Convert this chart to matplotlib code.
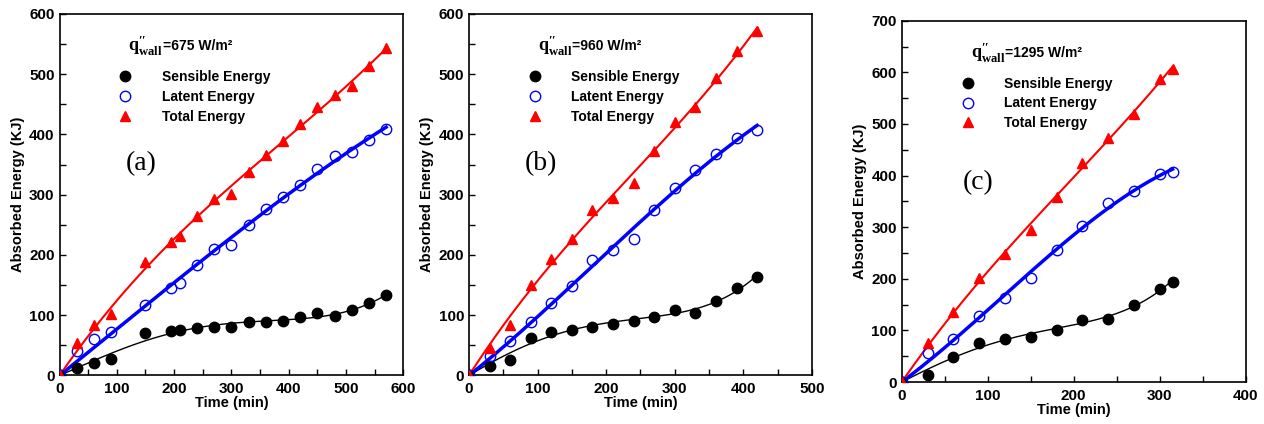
import numpy as np
import matplotlib.pyplot as plt
from matplotlib.lines import Line2D
from matplotlib.ticker import MultipleLocator

plt.rcParams['font.family'] = ['Liberation Sans', 'DejaVu Sans']
plt.rcParams['font.weight'] = 'bold'
plt.rcParams['mathtext.fontset'] = 'custom'
plt.rcParams['mathtext.rm'] = 'Liberation Serif:bold'
plt.rcParams['mathtext.it'] = 'Liberation Serif:bold'
plt.rcParams['mathtext.bf'] = 'Liberation Serif:bold'

# (a) q''wall = 675 W/m2
time_a = [0, 30, 60, 90, 150, 195, 210, 240, 270, 300, 330, 360, 390, 420, 450, 480, 510, 540, 570]
sens_a = [0, 13, 20, 27, 70, 74, 76, 78, 81, 81, 88, 88, 91, 97, 103, 99, 108, 120, 133]
lat_a = [0, 41, 60, 73, 117, 145, 153, 184, 210, 217, 249, 276, 297, 317, 343, 365, 371, 391, 409]
tot_a = [0, 54, 84, 102, 188, 221, 232, 264, 293, 301, 337, 366, 389, 418, 446, 465, 481, 514, 543]

# (b) q''wall = 960 W/m2
time_b = [0, 30, 60, 90, 120, 150, 180, 210, 240, 270, 300, 330, 360, 390, 420]
sens_b = [0, 15, 26, 63, 72, 76, 81, 86, 91, 97, 109, 103, 124, 146, 163]
lat_b = [0, 32, 58, 88, 121, 149, 191, 208, 227, 275, 312, 341, 367, 395, 408]
tot_b = [0, 46, 84, 150, 193, 226, 275, 294, 319, 372, 421, 445, 493, 538, 572]

# (c) q''wall = 1295 W/m2
time_c = [0, 30, 60, 90, 120, 150, 180, 210, 240, 270, 300, 315]
sens_c = [0, 14, 49, 75, 83, 88, 101, 120, 122, 149, 181, 194]
lat_c = [0, 57, 83, 127, 162, 202, 256, 302, 346, 370, 403, 407]
tot_c = [0, 76, 136, 201, 248, 294, 359, 424, 472, 520, 587, 606]

panels = [
    dict(t=time_a, s=sens_a, l=lat_a, T=tot_a, flux='675', tag='(a)', xmax=600, ymax=600,
         rect=[0.0471, 0.1144, 0.2720, 0.8526], tagpos=(0.237, 0.585)),
    dict(t=time_b, s=sens_b, l=lat_b, T=tot_b, flux='960', tag='(b)', xmax=500, ymax=600,
         rect=[0.3710, 0.1144, 0.2714, 0.8526], tagpos=(0.209, 0.585)),
    dict(t=time_c, s=sens_c, l=lat_c, T=tot_c, flux='1295', tag='(c)', xmax=400, ymax=700,
         rect=[0.7134, 0.0990, 0.2721, 0.8522], tagpos=(0.223, 0.551)),
]


def fit_origin(t, y, deg, tt):
    # least squares polynomial forced through (0, 0)
    A = np.vstack([t ** k for k in range(1, deg + 1)]).T
    coef = np.linalg.lstsq(A, np.asarray(y, dtype=float), rcond=None)[0]
    return sum(c * tt ** (k + 1) for k, c in enumerate(coef))


fig = plt.figure(figsize=(12.64, 4.24), dpi=100)

handles = [
    Line2D([], [], ls='none', marker='o', ms=7.5, mfc='black', mec='black'),
    Line2D([], [], ls='none', marker='o', ms=7.5, mfc='none', mec='blue', mew=1.0),
    Line2D([], [], ls='none', marker='^', ms=6.5, mfc='red', mec='red'),
]
labels = ['Sensible Energy', 'Latent Energy', 'Total Energy']

for p in panels:
    ax = fig.add_axes(p['rect'])
    t = np.array(p['t'], dtype=float)
    tt = np.linspace(0, t.max(), 300)

    # smooth fitted curves
    for y, c, lw, deg in [(p['s'], 'black', 1.0, 4), (p['l'], 'blue', 2.5, 3), (p['T'], 'red', 1.5, 3)]:
        ax.plot(tt, fit_origin(t, y, deg, tt), color=c, lw=lw, zorder=2)

    ax.plot(t, p['s'], ls='none', marker='o', ms=7.5, mfc='black', mec='black', zorder=3)
    ax.plot(t, p['l'], ls='none', marker='o', ms=7.5, mfc='none', mec='blue', mew=1.0, zorder=3)
    ax.plot(t, p['T'], ls='none', marker='^', ms=6.5, mfc='red', mec='red', zorder=3)

    ax.set_xlim(0, p['xmax'])
    ax.set_ylim(0, p['ymax'])
    ax.xaxis.set_major_locator(MultipleLocator(100))
    ax.xaxis.set_minor_locator(MultipleLocator(50))
    ax.yaxis.set_major_locator(MultipleLocator(100))
    ax.yaxis.set_minor_locator(MultipleLocator(50))
    ax.tick_params(which='both', direction='in', length=4, width=1, labelsize=11)
    ax.tick_params(axis='x', pad=5)
    for sp in ax.spines.values():
        sp.set_linewidth(1.2)
    ax.set_xlabel('Time (min)', fontsize=10.5, fontweight='bold', labelpad=0)
    ax.set_ylabel('Absorbed Energy (KJ)', fontsize=10.5, fontweight='bold', labelpad=3)

    q = ax.text(0.20, 0.895, r'$\mathrm{q}^{\mathrm{\prime\prime}}_{\mathrm{wall}}$',
                transform=ax.transAxes, fontsize=13, va='baseline', ha='left')
    ax.annotate('=' + p['flux'] + ' W/m²', xy=(1.0, 0.33), xycoords=q,
                fontsize=10, fontweight='bold', va='baseline', ha='left')
    ax.legend(handles, labels, loc='upper left', bbox_to_anchor=(0.135, 0.88), frameon=False,
              handlelength=1.0, handletextpad=2.1, labelspacing=0.42,
              prop={'weight': 'bold', 'size': 10})
    ax.text(p['tagpos'][0], p['tagpos'][1], p['tag'], transform=ax.transAxes,
            fontsize=20, family='Liberation Serif', fontweight='normal', ha='center', va='center')

fig.savefig('out.png', dpi=100)
